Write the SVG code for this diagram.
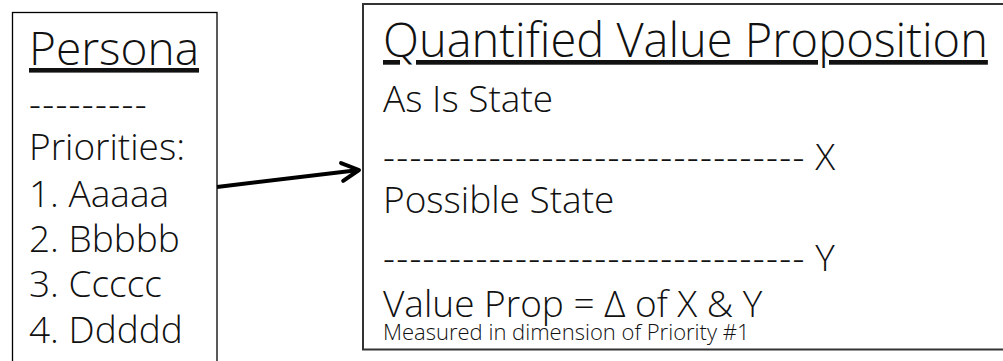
<svg xmlns="http://www.w3.org/2000/svg" width="1003" height="361" viewBox="0 0 1003 361">
  <style>
    .t { font-family: "Open Sans", Lato, "Liberation Sans", sans-serif; font-weight: 300; fill: #111; font-variant-ligatures: none; }
    .big { font-size: 37px; }
    .title { font-size: 46px; text-decoration: underline; }
    .title2 { font-size: 47px; text-decoration: underline; }
    .small { font-size: 22px; }
    .dash { letter-spacing: 1.3px; }
    .box { fill: #fff; }
  </style>
  <defs>
    <marker id="arrow" markerUnits="userSpaceOnUse" markerWidth="30" markerHeight="30" viewBox="-25 -15 30 30" refX="0" refY="0" orient="auto">
      <path d="M-17,-9 L0,0 L-17,9" fill="none" stroke="#000" stroke-width="4" stroke-linecap="round" stroke-linejoin="round"/>
    </marker>
  </defs>
  <rect width="1003" height="361" fill="#fff"/>
  <g id="persona">
    <rect class="box" x="12.5" y="12.5" width="204.5" height="360" stroke="#000" stroke-width="1.3"/>
    <text class="t title" x="29" y="65">Persona</text>
    <text class="t big dash" x="29" y="117">---------</text>
    <text class="t big" x="29" y="160">Priorities:</text>
    <text class="t big" x="29" y="207">1. Aaaaa</text>
    <text class="t big" x="29" y="252">2. Bbbbb</text>
    <text class="t big" x="29" y="297">3. Ccccc</text>
    <text class="t big" x="29" y="343">4. Ddddd</text>
  </g>
  <g id="value-proposition">
    <rect class="box" x="363" y="4" width="660" height="345.5" stroke="#333" stroke-width="2"/>
    <text class="t title2" x="383" y="57">Quantified Value Proposition</text>
    <text class="t big" x="383" y="112">As Is State</text>
    <text class="t big" x="383" y="170"><tspan class="dash">--------------------------------</tspan> X</text>
    <text class="t big" x="383" y="213">Possible State</text>
    <text class="t big" x="383" y="271"><tspan class="dash">--------------------------------</tspan> Y</text>
    <text class="t big" x="383" y="317">Value Prop = Δ of X &amp; Y</text>
    <text class="t small" x="383" y="340">Measured in dimension of Priority #1</text>
  </g>
  <g id="connectors">
    <path d="M217,187 L359,170" fill="none" stroke="#000" stroke-width="4" marker-end="url(#arrow)"/>
  </g>
</svg>
